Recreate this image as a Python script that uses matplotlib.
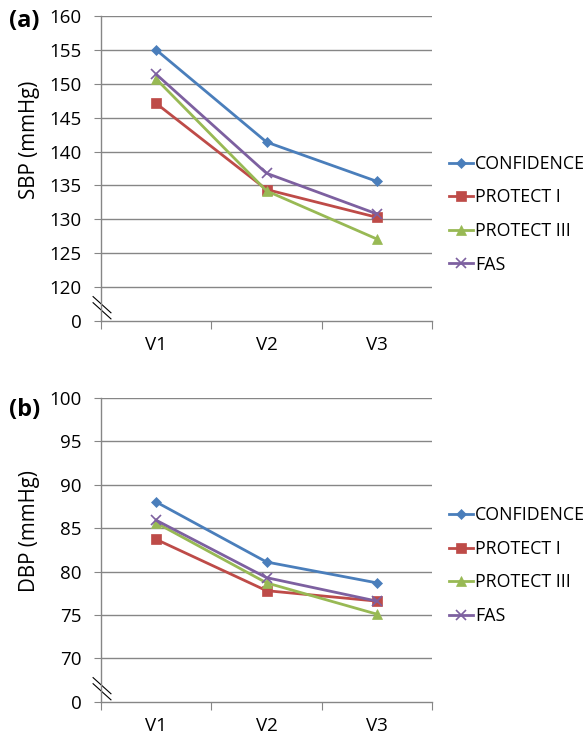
import matplotlib
matplotlib.use('Agg')
import matplotlib.pyplot as plt
import numpy as np

plt.rcParams['font.family'] = ['Open Sans', 'DejaVu Sans']

visits = ['V1', 'V2', 'V3']
series_names = ['CONFIDENCE', 'PROTECT I', 'PROTECT III', 'FAS']
colors = ['#4a7ebb', '#be4b48', '#98b954', '#7d60a0']
markers = ['D', 's', '^', 'x']

# 收缩压 SBP
sbp_confidence = [155.0, 141.4, 135.6]
sbp_protect1 = [147.1, 134.4, 130.3]
sbp_protect3 = [150.7, 134.2, 127.1]
sbp_fas = [151.4, 136.8, 130.8]

# 舒张压 DBP
dbp_confidence = [88.0, 81.1, 78.7]
dbp_protect1 = [83.7, 77.8, 76.6]
dbp_protect3 = [85.6, 78.7, 75.1]
dbp_fas = [85.9, 79.3, 76.6]

sbp_ticks = [120, 125, 130, 135, 140, 145, 150, 155, 160]
dbp_ticks = [70, 75, 80, 85, 90, 95, 100]

fig = plt.figure(figsize=(5.86, 7.4), dpi=100)
ax1 = fig.add_axes([0.1724, 0.5662, 0.5648, 0.4122])
ax2 = fig.add_axes([0.1724, 0.0514, 0.5648, 0.4112])

def draw(ax, data, ticks, ylabel, ylab_y, leg_y, tag, tag_y):
    x = np.arange(len(visits))
    step = ticks[1] - ticks[0]
    base = ticks[0] - step  # axis break: this position is labelled "0"
    for vals, name, c, m in zip(data, series_names, colors, markers):
        ms = {'D': 5, 's': 6.5, '^': 7, 'x': 7}[m]
        ax.plot(x, vals, color=c, marker=m, markersize=ms, lw=2, label=name,
                markeredgewidth=1.2 if m == 'x' else 0.5, clip_on=False, zorder=3)
    ax.set_xlim(-0.5, 2.5)
    ax.set_ylim(base, ticks[-1])
    ax.set_yticks([base] + ticks)
    ax.set_yticklabels(['0'] + [str(t) for t in ticks], fontsize=13.5)
    ax.set_xticks([-0.5, 0.5, 1.5, 2.5])
    ax.set_xticklabels([])
    ax.set_xticks(x, minor=True)
    ax.set_xticklabels(visits, minor=True, fontsize=13.5)
    ax.tick_params(axis='x', which='major', length=6, color='#868686', direction='out')
    ax.tick_params(axis='x', which='minor', length=0, pad=11)
    ax.tick_params(axis='y', length=5, color='#868686', pad=9)
    for t in ticks:
        ax.axhline(t, color='#868686', lw=1, zorder=1)
    for s in ['top', 'right']:
        ax.spines[s].set_visible(False)
    for s in ['left', 'bottom']:
        ax.spines[s].set_color('#868686')
        ax.spines[s].set_linewidth(1)
    ax.set_ylabel(ylabel, fontsize=14.8)
    ax.yaxis.set_label_coords(-0.185, ylab_y)
    # 断轴标记
    for dy in [0, 0.02]:
        ax.plot([-0.024, 0.03], [0.06 + dy, 0.007 + dy],
                transform=ax.transAxes, color='black', lw=0.8, clip_on=False)
    ax.legend(loc='center left', bbox_to_anchor=(1.05, leg_y), frameon=False,
              fontsize=12.8, handlelength=1.35, handletextpad=0.15, labelspacing=0.88,
              borderaxespad=0, borderpad=0)
    fig.text(0.015, tag_y, tag, fontsize=17, fontweight='bold', va='center')

draw(ax1, [sbp_confidence, sbp_protect1, sbp_protect3, sbp_fas], sbp_ticks,
     'SBP (mmHg)', 0.593, 0.35, '(a)', 0.971)
draw(ax2, [dbp_confidence, dbp_protect1, dbp_protect3, dbp_fas], dbp_ticks,
     'DBP (mmHg)', 0.5625, 0.448, '(b)', 0.446)

fig.savefig('out.png', dpi=100)
